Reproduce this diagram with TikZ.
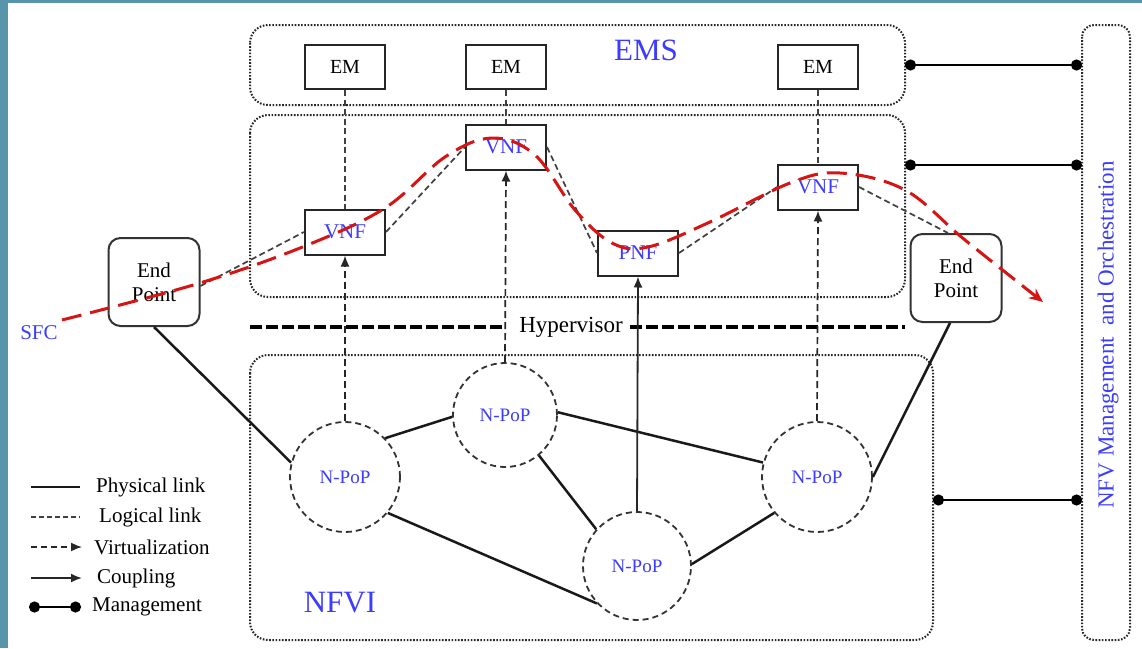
\documentclass[tikz,border=0pt]{standalone}
\usepackage{fontspec}
\setmainfont{Liberation Serif}
\usetikzlibrary{arrows.meta}
\definecolor{slide}{RGB}{88,148,170}
\definecolor{lblue}{RGB}{60,60,255}
\definecolor{sfcred}{RGB}{215,20,20}
\tikzset{
  layer/.style={draw=black!85, line width=2pt, dash pattern=on 1.6pt off 1.6pt, rounded corners=18pt},
  box/.style={draw=black!85, line width=2pt, minimum width=80pt, minimum height=44pt, inner sep=0pt},
  endpt/.style={draw=black!80, line width=2pt, rounded corners=12pt, minimum width=91pt, minimum height=88pt, align=center, font=\fontsize{21}{24}\selectfont, inner sep=0pt},
  npop/.style={circle, draw=black!80, line width=1.8pt, dash pattern=on 6pt off 4pt, minimum size=108pt, inner sep=0pt, text=lblue, font=\fontsize{19}{22}\selectfont},
  phys/.style={draw=black!90, line width=2.5pt},
  logic/.style={draw=black!75, line width=1.7pt, dash pattern=on 6pt off 3.5pt},
  virt/.style={draw=black!85, line width=1.7pt, dash pattern=on 7pt off 4pt, -{Latex[length=11pt,width=9pt]}},
  coup/.style={draw=black!85, line width=1.8pt, -{Latex[length=11pt,width=9pt]}},
  mgmt/.style={draw=black, line width=2.4pt, {Circle[length=11pt]}-{Circle[length=11pt]}},
  hyper/.style={draw=black, line width=4.5pt, dash pattern=on 12pt off 4pt},
  sfc/.style={draw=sfcred, line width=3pt, dash pattern=on 20pt off 9pt},
  lbl/.style={font=\fontsize{21}{24}\selectfont, anchor=west, inner sep=0pt},
}
\begin{document}
\begin{tikzpicture}[x=1pt, y=-1pt]
\useasboundingbox (0,0) rectangle (1142,648);
\fill[white] (0,0) rectangle (1142,648);
\fill[slide] (0,0) rectangle (8,648);
\fill[slide] (0,0) rectangle (1142,3);

% layers
\draw[layer] (250,25) rectangle (905,105);
\draw[layer] (250,115) rectangle (905,297);
\draw[layer] (250,355) rectangle (933,640);
\draw[layer, rounded corners=12pt] (1082,25) rectangle (1130,640);

\node[text=lblue, font=\fontsize{31}{35}\selectfont] (ems) at (646,50) {EMS};
\node[text=lblue, font=\fontsize{31}{35}\selectfont] (nfvi) at (340,603) {NFVI};
\node[text=lblue, font=\fontsize{23}{26}\selectfont, rotate=90] (mano) at (1108,335) {NFV Management\ \ and Orchestration};

% EM boxes
\node[box, font=\fontsize{20}{23}\selectfont] (em1) at (345,67) {EM};
\node[box, font=\fontsize{20}{23}\selectfont] (em2) at (506,67) {EM};
\node[box, font=\fontsize{20}{23}\selectfont] (em3) at (818,67) {EM};

% VNF boxes
\node[box, minimum height=45pt, text=lblue, font=\fontsize{21}{24}\selectfont] (vnf1) at (345,232) {VNF};
\node[box, minimum height=45pt, text=lblue, font=\fontsize{21}{24}\selectfont] (vnf2) at (506,147) {VNF};
\node[box, minimum height=45pt, text=lblue, font=\fontsize{21}{24}\selectfont] (pnf) at (638,253) {PNF};
\node[box, minimum height=45pt, text=lblue, font=\fontsize{21}{24}\selectfont] (vnf3) at (818,187) {VNF};

% end points
\node[endpt] (epl) at (154,282) {End\\Point};
\node[endpt] (epr) at (956,278) {End\\Point};

% hypervisor
\node[font=\fontsize{23}{26}\selectfont] (hv) at (571,327) {Hypervisor};
\coordinate (hvl) at (250,327);
\coordinate (hvr) at (905,327);
\draw[hyper] (hvl) -- ([xshift=-14pt]hv.west);
\draw[hyper] ([xshift=4pt]hv.east) -- (hvr);

% N-PoP
\node[npop, minimum size=110pt] (na) at (345,477) {N-PoP};
\node[npop, minimum size=104pt] (nb) at (505,415) {N-PoP};
\node[npop] (nc) at (637,566) {N-PoP};
\node[npop, minimum size=110pt] (nd) at (817,477) {N-PoP};

% physical links
\draw[phys] (epl.south) -- (na.165);
\draw[phys] (na.44) -- (nb.182);
\draw[phys] (na.-40) -- (nc.-137);
\draw[phys] (nb.-50) -- (nc.138);
\draw[phys] (nb.3) -- (nd.165);
\draw[phys] (nc.2) -- (nd.-140);
\draw[phys] (nd.0) -- ([xshift=-6pt]epr.south);

% EM - VNF logical
\draw[logic] (em1.south) -- (vnf1.north);
\draw[logic] (em2.south) -- (vnf2.north);
\draw[logic] (em3.south) -- (vnf3.north);

% virtualization / coupling
\draw[virt] (na.north) -- (vnf1.south);
\draw[virt] (nb.north) -- (vnf2.south);
\draw[virt] (nd.north) -- (vnf3.south);
\draw[coup] (nc.north) -- (pnf.south);

% logical chain
\draw[logic] ([yshift=-4pt]epl.east) -- (vnf1.west);
\draw[logic] (vnf1.east) -- (vnf2.west);
\draw[logic] (vnf2.east) -- (pnf.west);
\draw[logic] (pnf.east) -- (vnf3.west);
\draw[logic] (vnf3.east) -- ([xshift=-8pt]epr.north);

% SFC
\node[text=lblue, font=\fontsize{21}{24}\selectfont] (sfc) at (39,333) {SFC};
\draw[sfc, -{Stealth[length=14pt,width=12pt]}] plot[smooth, tension=0.6] coordinates
  {(62,320) (200,283) (305,246) (385,208) (445,157) (492,138) (535,155) (575,210) (612,243) (648,247) (710,222) (790,183) (840,173) (905,190) (965,240) (1043,302)};

% management
\coordinate (m1a) at (905,65); \coordinate (m1b) at (1082,65);
\coordinate (m2a) at (905,165); \coordinate (m2b) at (1082,165);
\coordinate (m3a) at (933,500); \coordinate (m3b) at (1082,500);
\draw[mgmt] (m1a) -- (m1b);
\draw[mgmt] (m2a) -- (m2b);
\draw[mgmt] (m3a) -- (m3b);

% legend
\coordinate (l1a) at (31,487); \coordinate (l1b) at (80,487);
\coordinate (l2a) at (31,517); \coordinate (l2b) at (80,517);
\coordinate (l3a) at (31,547); \coordinate (l3b) at (82,547);
\coordinate (l4a) at (31,578); \coordinate (l4b) at (82,578);
\coordinate (l5a) at (29,607); \coordinate (l5b) at (81,607);
\draw[phys] (l1a) -- (l1b);
\draw[draw=black!75, line width=1.5pt, dash pattern=on 5pt off 3pt] (l2a) -- (l2b);
\draw[virt, line width=1.6pt, dash pattern=on 6pt off 4pt] (l3a) -- (l3b);
\draw[coup, line width=1.8pt] (l4a) -- (l4b);
\draw[mgmt] (l5a) -- (l5b);
\node[lbl] (t1) at (96,487) {Physical link};
\node[lbl] (t2) at (99,517) {Logical link};
\node[lbl] (t3) at (94,547) {Virtualization};
\node[lbl] (t4) at (97,578) {Coupling};
\node[lbl] (t5) at (92,607) {Management};
\end{tikzpicture}
\end{document}
